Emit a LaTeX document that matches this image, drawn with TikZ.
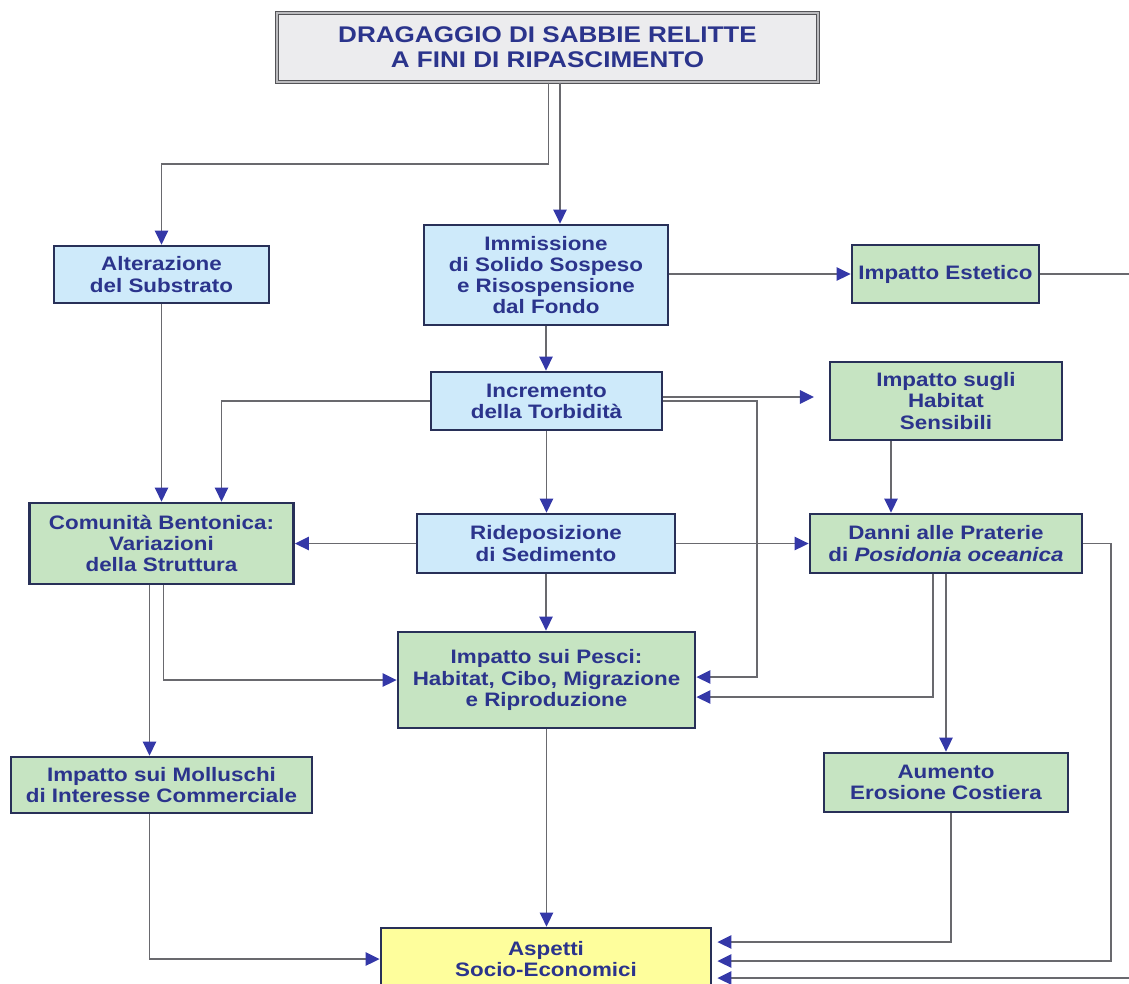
\documentclass[tikz,border=0pt]{standalone}
\usepackage{fontspec}
\setmainfont{Liberation Sans}[FakeStretch=1.15]
\usetikzlibrary{arrows.meta,calc}
\definecolor{txt}{RGB}{43,52,140}
\definecolor{bord}{RGB}{40,48,88}
\definecolor{lblue}{RGB}{206,234,250}
\definecolor{lgreen}{RGB}{198,228,194}
\definecolor{lyel}{RGB}{254,254,156}
\definecolor{lgray}{RGB}{236,236,238}
\definecolor{lgr}{RGB}{105,105,110}
\definecolor{ablue}{RGB}{52,56,168}
\begin{document}
\begin{tikzpicture}[x=0.75pt,y=-0.75pt,
  wh/.style 2 args={minimum width=#1*0.75pt, minimum height=#2*0.75pt},
  boxbase/.style={draw=bord, line width=2.1pt, inner sep=0pt, align=center, text=txt,
    font=\fontsize{14.6pt}{15.9pt}\selectfont\bfseries},
  bluebox/.style={boxbase, fill=lblue},
  greenbox/.style={boxbase, fill=lgreen},
  yellowbox/.style={boxbase, fill=lyel},
  topbox/.style={boxbase, fill=lgray, draw=lgr!80!black, line width=1pt, double=lgr!45, double distance=1.2pt,
    font=\fontsize{17pt}{19pt}\selectfont\bfseries},
  arr/.style={draw=lgr, line width=1.4pt, -{Triangle[length=10.5pt,width=10pt,color=ablue]}},
  gap/.style={shorten >=3.75pt}
]
\useasboundingbox[fill=white] (0,0) rectangle (1129,983);

\node[topbox, wh={541}{69}] (top) at (547.5,47.5) {DRAGAGGIO DI SABBIE RELITTE\\A FINI DI RIPASCIMENTO};
\node[bluebox, wh={215}{57}] (alt) at (161.5,274.5) {Alterazione\\del Substrato};
\node[bluebox, wh={244}{100}] (imm) at (546,275) {Immissione\\di Solido Sospeso\\e Risospensione\\dal Fondo};
\node[bluebox, wh={231}{58}] (inc) at (546.5,401) {Incremento\\della Torbidità};
\node[greenbox, wh={187}{58}] (est) at (945.5,274) {Impatto Estetico};
\node[greenbox, wh={232}{78}] (hab) at (946,401) {Impatto sugli\\Habitat\\Sensibili};
\node[greenbox, wh={264}{81}] (com) at (161.5,543.5) {Comunità Bentonica:\\Variazioni\\della Struttura};
\node[bluebox, wh={258}{59}] (rid) at (546,543.5) {Rideposizione\\di Sedimento};
\node[greenbox, wh={272}{59}] (dan) at (946,543.5) {Danni alle Praterie\\di \textit{Posidonia oceanica}};
\node[greenbox, wh={297}{96}] (pes) at (546.5,680) {Impatto sui Pesci:\\Habitat, Cibo, Migrazione\\e Riproduzione};
\node[greenbox, wh={301}{56}] (mol) at (161.5,785) {Impatto sui Molluschi\\di Interesse Commerciale};
\node[greenbox, wh={244}{59}] (aum) at (946,782.5) {Aumento\\Erosione Costiera};
\node[yellowbox, wh={330}{62}] (asp) at (546,959) {Aspetti\\Socio-Economici};
\coordinate (offR) at (1140,978);

% connectors
\draw[arr] ($(top.south)+(1,0)$) -- ++(0,81) -| (alt.north);
\draw[arr] ($(top.south)+(12.5,0)$) -- ($(imm.north)+(14,0)$);
\draw[arr] (imm.east |- est.west) -- (est.west);
\draw[arr] (imm.south) -- (imm.south |- inc.north);
\draw[arr, shorten >=11pt] ($(inc.east)+(0,-4)$) -- ($(hab.west)+(0,-4)$);
\draw[arr] (inc.east) -- ++(94,0) |- ($(pes.east)+(0,-3)$);
\draw[arr] (inc.west) -| ($(com.north)+(60,0)$);
\draw[arr] (alt.south) -- (alt.south |- com.north);
\draw[arr] (inc.south) -- (inc.south |- rid.north);
\draw[arr] (rid.west) -- (com.east);
\draw[arr] (rid.east) -- (dan.west);
\draw[arr] (rid.south) -- (rid.south |- pes.north);
\draw[arr] ($(hab.south)+(-55,0)$) -- ($(dan.north)+(-55,0)$);
\draw[arr] ($(com.south)+(-12,0)$) -- ($(mol.north)+(-12,0)$);
\draw[arr] ($(com.south)+(2,0)$) |- (pes.west);
\draw[arr] ($(dan.south)+(-13,0)$) |- ($(pes.east)+(0,17)$);
\draw[arr] (dan.south) -- (aum.north);
\draw[arr, gap] (dan.east) -- ++(28,0) |- ($(asp.east)+(0,2)$);
\draw[arr, gap] ($(aum.south)+(5,0)$) |- ($(asp.east)+(0,-17)$);
\draw[arr, gap] (est.east) -| (offR) -- ($(asp.east)+(0,19)$);
\draw[arr] (pes.south) -- (pes.south |- asp.north);
\draw[arr] ($(mol.south)+(-12,0)$) |- (asp.west);
\end{tikzpicture}
\end{document}
